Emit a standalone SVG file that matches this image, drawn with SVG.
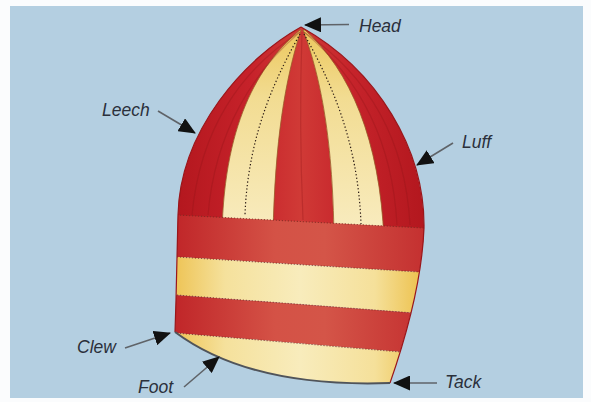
<svg xmlns="http://www.w3.org/2000/svg" width="591" height="402" viewBox="0 0 591 402">
  <style>
    .lbl { font-family: "Liberation Sans", Arial, sans-serif; font-style: italic; font-size: 17.5px; fill: #2b303b; }
    .lead { stroke: #5f6368; stroke-width: 1.6; fill: none; marker-end: url(#arrow); }
    .seam { fill: none; stroke: #7a2a20; stroke-width: 1.1; stroke-dasharray: 1.2 1.8; opacity: 0.75; }
    .panelseam { fill: none; stroke: #2a1a14; stroke-width: 1.2; stroke-dasharray: 1.3 2.2; }
    .fold { fill: none; stroke: #8f1418; stroke-width: 1.2; opacity: 0.3; }
  </style>
  <defs>
    <marker id="arrow" viewBox="0 0 17 15" markerWidth="17" markerHeight="15" refX="16" refY="7.5" orient="auto" markerUnits="userSpaceOnUse">
      <path d="M0,0 L17,7.5 L0,15 Z" fill="#111"/>
    </marker>
    <clipPath id="sailClip">
      <path d="M301,27 C245,58 180,130 178,215 L176,300 L175,332 Q250,388 390,383 C405,340 422,280 424,228 C425,150 378,70 301,27 Z"/>
    </clipPath>
    <linearGradient id="redTop" gradientUnits="userSpaceOnUse" x1="175" y1="0" x2="425" y2="0">
      <stop offset="0" stop-color="#b3171e"/>
      <stop offset="0.3" stop-color="#c6222a"/>
      <stop offset="0.5" stop-color="#d03a36"/>
      <stop offset="0.7" stop-color="#c6242b"/>
      <stop offset="1" stop-color="#b3171e"/>
    </linearGradient>
    <linearGradient id="redBand" gradientUnits="userSpaceOnUse" x1="175" y1="0" x2="425" y2="0">
      <stop offset="0" stop-color="#c02629"/>
      <stop offset="0.4" stop-color="#d45246"/>
      <stop offset="0.6" stop-color="#d45548"/>
      <stop offset="1" stop-color="#c43030"/>
    </linearGradient>
    <linearGradient id="yellowBand" gradientUnits="userSpaceOnUse" x1="175" y1="0" x2="425" y2="0">
      <stop offset="0" stop-color="#eec456"/>
      <stop offset="0.2" stop-color="#f5e19c"/>
      <stop offset="0.5" stop-color="#f8ecbc"/>
      <stop offset="0.8" stop-color="#f5e09a"/>
      <stop offset="1" stop-color="#ecbf48"/>
    </linearGradient>
    <linearGradient id="yellowPanel" gradientUnits="userSpaceOnUse" x1="0" y1="30" x2="0" y2="225">
      <stop offset="0" stop-color="#ecc85e"/>
      <stop offset="0.35" stop-color="#f2dc92"/>
      <stop offset="1" stop-color="#f8ebbd"/>
    </linearGradient>
  </defs>

  <!-- page and backdrop -->
  <rect x="0" y="0" width="591" height="402" fill="#fbfcfd"/>
  <rect x="10" y="6" width="573" height="392" fill="#b4cfe1"/>

  <!-- spinnaker -->
  <g id="sail">
    <g clip-path="url(#sailClip)">
      <!-- head section with radial panels -->
      <rect x="150" y="20" width="300" height="230" fill="url(#redTop)"/>
      <path d="M300,30 C264,60 224,115 222,235 L273,235 C275,140 285,80 301,30 Z" fill="url(#yellowPanel)" stroke="#9a5a2a" stroke-width="0.8"/>
      <path d="M303,30 C318,70 333,130 334,240 L384,240 C380,140 350,70 305,30 Z" fill="url(#yellowPanel)" stroke="#9a5a2a" stroke-width="0.8"/>
      <path class="panelseam" d="M300,34 C280,70 248,130 245,215"/>
      <path class="panelseam" d="M304,34 C330,80 358,140 361,224"/>
      <!-- fold lines in the red panels -->
      <path class="fold" d="M300,32 C240,70 200,130 192,215"/>
      <path class="fold" d="M300,32 C255,70 215,130 208,215"/>
      <path class="fold" d="M302,32 C300,90 300,150 303,220"/>
      <path class="fold" d="M304,32 C360,70 405,130 410,225"/>
      <path class="fold" d="M304,32 C350,70 392,130 397,225"/>

      <!-- horizontal cloths -->
      <polygon points="150,213.6 450,229.4 450,273.9 150,255.3" fill="url(#redBand)"/>
      <polygon points="150,255.3 450,273.9 450,315.7 150,293" fill="url(#yellowBand)"/>
      <polygon points="150,293 450,315.7 450,356.2 150,330.8" fill="url(#redBand)"/>
      <polygon points="150,330.8 450,356.2 450,400 150,400" fill="url(#yellowBand)"/>

      <!-- cloth seams -->
      <line class="seam" x1="150" y1="213.6" x2="450" y2="229.4"/>
      <line class="seam" x1="150" y1="255.3" x2="450" y2="273.9"/>
      <line class="seam" x1="150" y1="293" x2="450" y2="315.7"/>
      <line class="seam" x1="150" y1="330.8" x2="450" y2="356.2"/>
    </g>
    <!-- edges: leech, luff, foot -->
    <path d="M301,27 C245,58 180,130 178,215 L176,300 L175,332" fill="none" stroke="#9a161a" stroke-width="1.2"/>
    <path d="M390,383 C405,340 422,280 424,228 C425,150 378,70 301,27" fill="none" stroke="#9a161a" stroke-width="1.2"/>
    <path d="M175,332 Q250,388 390,383" fill="none" stroke="#50545a" stroke-width="2"/>
  </g>

  <!-- leader lines -->
  <g id="connectors">
    <line class="lead" x1="349" y1="24.5" x2="305" y2="25"/>
    <line class="lead" x1="158" y1="111" x2="195" y2="133"/>
    <line class="lead" x1="453" y1="143" x2="417" y2="165"/>
    <line class="lead" x1="125" y1="348" x2="170" y2="333"/>
    <line class="lead" x1="184" y1="387" x2="219" y2="357"/>
    <line class="lead" x1="437" y1="383" x2="394" y2="383"/>
  </g>

  <!-- labels -->
  <g id="label-head"><text class="lbl" x="359" y="32">Head</text></g>
  <g id="label-leech"><text class="lbl" x="102" y="116">Leech</text></g>
  <g id="label-luff"><text class="lbl" x="462" y="148">Luff</text></g>
  <g id="label-clew"><text class="lbl" x="77" y="353">Clew</text></g>
  <g id="label-foot"><text class="lbl" x="138" y="393">Foot</text></g>
  <g id="label-tack"><text class="lbl" x="445" y="388">Tack</text></g>
</svg>
